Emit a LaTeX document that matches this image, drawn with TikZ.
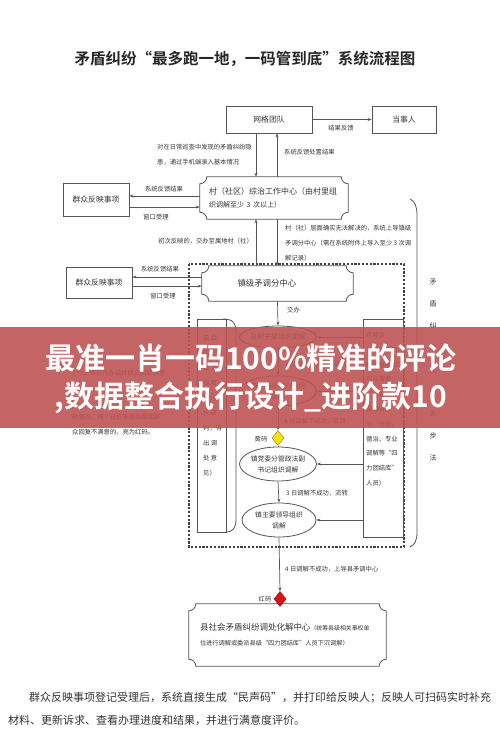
\documentclass[tikz,border=0pt]{standalone}
\usepackage{fontspec}
\setmainfont{Noto Sans CJK SC}[BoldFont={Noto Sans CJK SC Bold}]
\usepackage{tikz}
\usetikzlibrary{calc}
\usetikzlibrary{shapes.geometric}
\usetikzlibrary{arrows.meta}
\definecolor{linegray}{RGB}{85,85,85}
\definecolor{txtgray}{RGB}{55,55,55}
\definecolor{bannerred}{RGB}{190,84,84}
\definecolor{codeyellow}{RGB}{246,226,20}
\definecolor{codered}{RGB}{222,18,18}
\tikzset{
    box/.style 2 args={draw=linegray, line width=0.8pt, minimum width=#1, minimum height=#2, inner sep=0pt, text=txtgray, font=\fontsize{7.8}{10}\selectfont},
    plaque/.style 2 args={minimum width=#1, minimum height=#2, inner sep=0pt, text=txtgray},
    oval/.style 2 args={ellipse, draw=linegray, line width=0.8pt, minimum width=#1, minimum height=#2, inner sep=0pt, align=center, text=txtgray, font=\fontsize{6.8}{11}\selectfont},
    codemark/.style={diamond, fill=#1, draw=#1!65!black, line width=0.5pt, minimum width=12pt, minimum height=15pt, inner sep=0pt},
    lbl/.style={inner sep=0pt, text=txtgray, font=\fontsize{6.3}{14.8}\selectfont},
    flow/.style={draw=linegray, line width=0.7pt, -{Stealth[length=4pt,width=3pt]}},
    frame/.style={draw=linegray, line width=0.8pt},
    banner/.style={inner sep=0pt, text=white, font=\fontsize{30}{32}\selectfont\bfseries}
}
\newcommand{\plaqueframe}[2][7pt]{\draw[frame] ([xshift=#1]#2.north west) -- ([xshift=-#1]#2.north east) arc (180:270:#1) -- ([yshift=#1]#2.south east) arc (90:180:#1) -- ([xshift=#1]#2.south west) arc (0:90:#1) -- ([yshift=-#1]#2.north west) arc (270:360:#1) -- cycle;}

\begin{document}
\begin{tikzpicture}[x=1pt,y=-1pt]
\useasboundingbox (0,0) rectangle (500,756);
\fill[white] (0,0) rectangle (500,756);

\node[inner sep=0pt, text=black!85, font=\fontsize{15.5}{18}\selectfont\bfseries] (title) at (245,59) {矛盾纠纷“最多跑一地，一码管到底”系统流程图};

% boxes
\node[box={86pt}{27pt}] (grid) at (269,119.5) {网格团队};
\node[box={64pt}{27pt}] (party) at (404,119.5) {当事人};
\node[box={66pt}{33pt}] (mass1) at (96,199.5) {群众反映事项};
\node[box={66pt}{31pt}] (mass2) at (99,282.5) {群众反映事项};
\node[plaque={148pt}{42pt}, text width=130pt, align=left, font=\fontsize{8}{13}\selectfont] (vil) at (274,198) {村（社区）综治工作中心（由村里组\\{\fontsize{7}{13}\selectfont 织调解至少 3 次以上）}};
\plaqueframe{vil}
\node[plaque={151pt}{35pt}, text width=80pt, align=left, font=\fontsize{8.4}{10}\selectfont] (town) at (277.5,283.5) {镇级矛调分中心};
\plaqueframe{town}
\node[plaque={197pt}{62pt}, text width=175pt, align=left, font=\fontsize{6.2}{15}\selectfont] (county) at (287.5,635) {{\fontsize{8.5}{15}\selectfont 县社会矛盾纠纷调处化解中心}{\fontsize{5.9}{15}\selectfont （统筹县级相关事权单}\\位进行调解或委派县级“四力团结库”人员下沉调解）};
\plaqueframe{county}

% town level frame
\draw[draw=black!75, line width=1.1pt, dash pattern=on 2.2pt off 1.6pt] (189,264) rectangle (404,547);

\node[oval={73pt}{22pt}] (e1) at (278,337) {驻村干部组织调解};
\node[oval={73pt}{30pt}] (e2) at (278,391) {镇矛调分中心组织\\调解};
\node[oval={73pt}{34pt}] (e3) at (278,464) {镇党委分管政法副\\书记组织调解};
\node[oval={74pt}{34pt}] (e4) at (279,520) {镇主要领导组织\\调解};
\node[codemark=codeyellow] (ydia) at (278,438) {};
\node[codemark=codered] (rdia) at (280,599) {};

\node[box={29pt}{213pt}] (lbox) at (211.5,425.5) {};
\draw[frame] (223,319) .. controls (233,319) and (236,323) .. (236,333) -- (236,519) .. controls (236,528) and (233,532) .. (226,532);
\foreach \t [count=\i from 0] in {云 会, 商（, 线 上, 指 挥, ，分, 析 研, 判，得, 出 调, 处 意, 见）}
    \node[lbl, anchor=west] (l\i) at (203,338+15*\i) {\t};
\node[box={40pt}{218pt}] (rbox) at (383,428) {};
\foreach \t [count=\i from 0] in {点将台, （根据矛盾, 纠纷性质和, 实际需要, ，由镇级, 调派自, 治、法治、, 德治、专业, 调解等“四, 力团结库”, 人员）}
    \node[lbl, anchor=west] (r\i) at (366,335+14.8*\i) {\t};

\draw[frame] (410,199) .. controls (415,201) and (417,207) .. (417,215) -- (417,532) .. controls (417,540) and (415,545) .. (410,547);
\foreach \c [count=\i from 0] in {矛,盾,纠,纷,化,解,五,步,法}
    \node[lbl, font=\fontsize{7}{9}\selectfont] (b\i) at (433,282+22*\i) {\c};

% connectors
\draw[flow] (grid.east) -- (party.west);
\node[lbl] (fb0) at (341,128) {结果反馈};
\draw[flow] (256,0 |- grid.south) -- (256,0 |- vil.north);
\node[lbl, anchor=north west, align=left] (fb1) at (157,144) {对在日常巡查中发现的矛盾纠纷隐\\患，通过手机端录入基本情况};
\draw[flow] (277,0 |- vil.north) -- (277,0 |- grid.south);
\node[lbl, anchor=west] (fb2) at (284,152) {系统反馈处置结果};
\draw[flow] (vil.west |- 0,196) -- (mass1.east |- 0,196);
\node[lbl] (fb3) at (164,189) {系统反馈结果};
\draw[flow] (mass1.east |- 0,207) -- (vil.west |- 0,207);
\node[lbl] (fb4) at (156,217) {窗口受理};
\draw[flow] (256,0 |- town.north) -- (256,0 |- vil.south);
\node[lbl, anchor=east] (fb5) at (253,241) {初次反映的，交办至属地村（社）};
\draw[flow] (277,0 |- vil.south) -- (277,0 |- town.north);
\node[lbl, anchor=north west, align=left] (fb6) at (285,225) {村（社）层面确实无法解决的，系统上导镇级\\矛调分中心（需在系统附件上导入至少 3 次调\\解记录）};
\draw[flow] (town.west |- 0,277) -- (mass2.east |- 0,277);
\node[lbl] (fb7) at (160,269) {系统反馈结果};
\draw[flow] (mass2.east |- 0,286) -- (town.west |- 0,286);
\node[lbl] (fb8) at (163,296) {窗口受理};

\draw[flow] (town.south) -- (e1.north);
\node[lbl, anchor=west] (fb9) at (287,310) {交办};
\draw[flow] (e1.south) -- (e2.north);
\node[lbl, anchor=west] (fb10) at (285,364) {3 日调解不成功，流转};
\draw[flow] (e2.south) -- (ydia.north);
\node[lbl, anchor=west] (fb11) at (284,421) {4 日调解不成功，流转};
\draw[frame] (ydia.south) -- (e3.north);
\node[lbl] (fb12) at (261,439) {黄码};
\draw[flow] (e3.south) -- (e4.north);
\node[lbl, anchor=west] (fb13) at (286,493) {3 日调解不成功，流转};
\draw[flow] (e4.south) -- (rdia.north);
\node[lbl, anchor=west] (fb14) at (285,569) {4 日调解不成功，上导县矛调中心};
\node[lbl] (fb15) at (265,599) {红码};
\foreach \e in {e1,e2,e3,e4}
    \draw[flow] (rbox.west |- \e.east) -- (\e.east);

\node[lbl, anchor=west] (gl1) at (72,373) {7 个工作日内办结并群众回复满意};
\node[lbl, anchor=west] (gl2) at (72,417) {码督办，再 7 日仍未能办结或群};
\node[lbl, anchor=west] (gl3) at (72,432) {众回复不满意的，亮为红码。};

% note under the chart
\node[inner sep=0pt, anchor=west, text=black!80, font=\fontsize{11}{13}\selectfont] (note1) at (29,698) {群众反映事项登记受理后，系统直接生成“民声码”，并打印给反映人；反映人可扫码实时补充};
\node[inner sep=0pt, anchor=west, text=black!80, font=\fontsize{11}{13}\selectfont] (note2) at (8,720) {材料、更新诉求、查看办理进度和结果，并进行满意度评价。};

% banner
\fill[bannerred, opacity=0.9] (0,327) rectangle (500,428);
\node[banner] (ban1) at (251,358) {最准一肖一码100\%精准的评论};
\node[banner] (ban2) at (251,398) {,数据整合执行设计\_进阶款10};
\end{tikzpicture}
\end{document}
